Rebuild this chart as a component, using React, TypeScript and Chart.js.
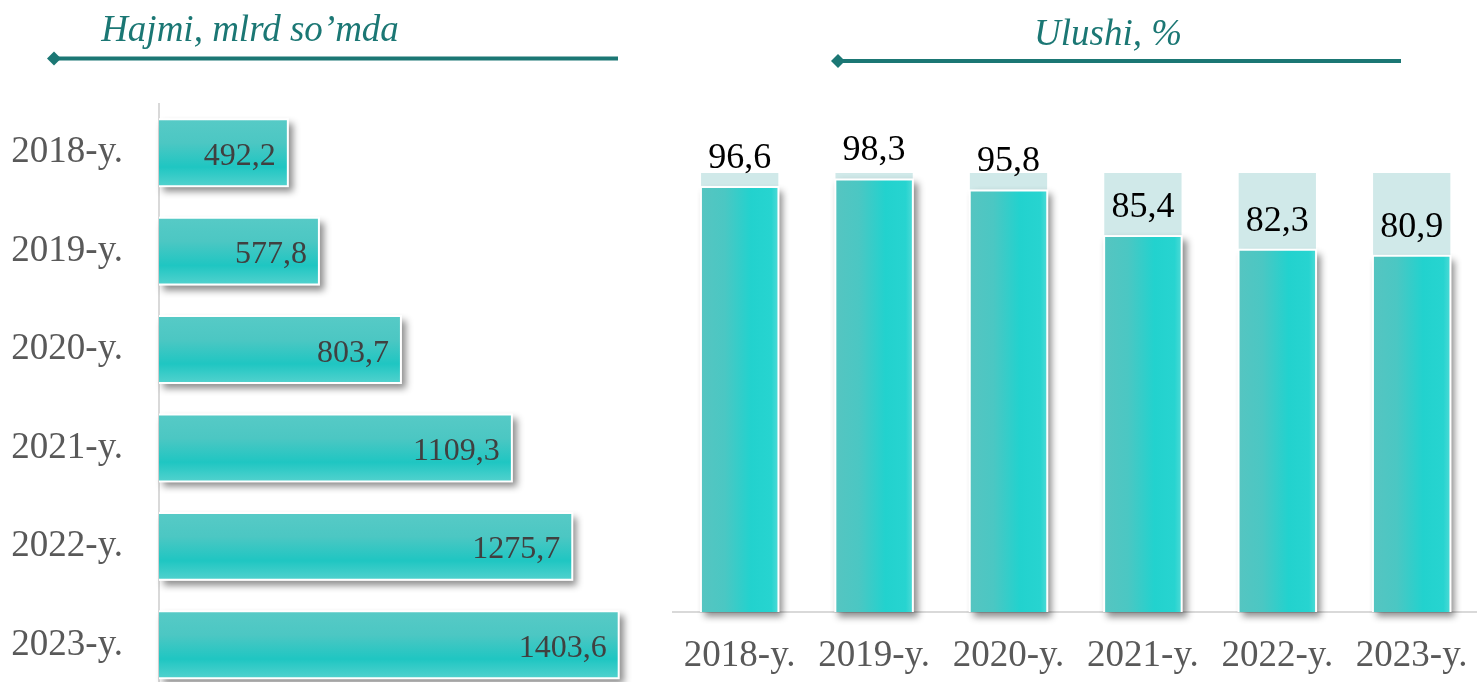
import React, { useEffect, useRef } from 'react';
import { Chart, registerables } from 'chart.js';

Chart.register(...registerables);

// ---------- data ----------
const YEARS = ['2018-y.', '2019-y.', '2020-y.', '2021-y.', '2022-y.', '2023-y.'];
const VOLUME = [492.2, 577.8, 803.7, 1109.3, 1275.7, 1403.6]; // mlrd so'm
const SHARE = [96.6, 98.3, 95.8, 85.4, 82.3, 80.9]; // %
const SHARE_MAX = 100;
const VOLUME_AXIS_MIN = 140;
const VOLUME_AXIS_MAX = 1465;
const LEFT_TITLE = 'Hajmi, mlrd so’mda';
const RIGHT_TITLE = 'Ulushi, %';

// ---------- style ----------
const SERIF = "'Liberation Serif', 'Times New Roman', serif";
const TEAL = '#1b7774';
const AXIS_GREY = '#d9d9d9';
const TICK_GREY = '#595959';
const H_BAR_PCT = 0.66;
const V_BAR_PCT = 0.562;
const V_BG_PCT = 0.575;

const fmt = (v: number) => v.toFixed(1).replace('.', ',');

const headerPlugin = {
  id: 'header',
  afterDraw(chart: any, _args: any, opts: any) {
    const { ctx } = chart;
    ctx.save();
    ctx.fillStyle = opts.color;
    ctx.font = `italic 37px ${SERIF}`;
    ctx.textAlign = 'center';
    ctx.textBaseline = 'alphabetic';
    ctx.fillText(opts.text, opts.textX, opts.textY);
    ctx.strokeStyle = opts.color;
    ctx.lineWidth = 4;
    ctx.beginPath();
    ctx.moveTo(opts.x1, opts.lineY);
    ctx.lineTo(opts.x2, opts.lineY);
    ctx.stroke();
    const d = 7;
    ctx.beginPath();
    ctx.moveTo(opts.x1 - d, opts.lineY);
    ctx.lineTo(opts.x1, opts.lineY - d);
    ctx.lineTo(opts.x1 + d, opts.lineY);
    ctx.lineTo(opts.x1, opts.lineY + d);
    ctx.closePath();
    ctx.fill();
    ctx.restore();
  },
};

const shadowPlugin = {
  id: 'barShadow',
  beforeDatasetDraw(chart: any, args: any, opts: any) {
    if (args.index !== opts.datasetIndex) return;
    const ctx = chart.ctx;
    ctx.save();
    ctx.shadowColor = 'rgba(0,0,0,0.45)';
    ctx.shadowBlur = 7;
    ctx.shadowOffsetX = 4;
    ctx.shadowOffsetY = 5;
    ctx.fillStyle = '#ffffff';
    args.meta.data.forEach((el: any) => {
      const p = el.getProps(['x', 'y', 'base', 'width', 'height'], true);
      if (opts.horizontal) {
        const l = Math.min(p.base, p.x);
        const r = Math.max(p.base, p.x);
        const t = p.y - p.height / 2;
        ctx.fillRect(l, t - 2, r - l + 2, p.height + 4);
      } else {
        const l = p.x - p.width / 2;
        const t = Math.min(p.y, p.base);
        const b = Math.max(p.y, p.base);
        ctx.fillRect(l - 2, t - 2, p.width + 4, b - t + 2);
      }
    });
    ctx.restore();
  },
};

const hLabelPlugin = {
  id: 'hLabels',
  afterDatasetsDraw(chart: any) {
    const ctx = chart.ctx;
    const meta = chart.getDatasetMeta(0);
    ctx.save();
    ctx.font = `32px ${SERIF}`;
    ctx.fillStyle = '#404040';
    ctx.textAlign = 'right';
    ctx.textBaseline = 'alphabetic';
    meta.data.forEach((el: any, i: number) => {
      ctx.fillText(fmt(VOLUME[i]), el.x - 11, el.y + 12);
    });
    ctx.restore();
  },
};

const vLabelPlugin = {
  id: 'vLabels',
  afterDatasetsDraw(chart: any) {
    const ctx = chart.ctx;
    const meta = chart.getDatasetMeta(1);
    ctx.save();
    ctx.font = `36px ${SERIF}`;
    ctx.fillStyle = '#000000';
    ctx.textAlign = 'center';
    ctx.textBaseline = 'alphabetic';
    meta.data.forEach((el: any, i: number) => {
      ctx.fillText(fmt(SHARE[i]), el.x, el.y - 20);
    });
    ctx.restore();
  },
};

function hGradient(context: any) {
  const chart = context.chart;
  const { ctx, chartArea, scales } = chart;
  if (!chartArea || !scales.y) return '#2cc7c3';
  const band = chartArea.height / YEARS.length;
  const h = band * H_BAR_PCT;
  const cy = scales.y.getPixelForValue(context.dataIndex);
  const g = ctx.createLinearGradient(0, cy - h / 2, 0, cy + h / 2);
  g.addColorStop(0, '#56cac6');
  g.addColorStop(0.35, '#4cc7c3');
  g.addColorStop(0.72, '#1fc6c2');
  g.addColorStop(1, '#4fd1cd');
  return g;
}

function vGradient(context: any) {
  const chart = context.chart;
  const { ctx, chartArea, scales } = chart;
  if (!chartArea || !scales.x) return '#2cc7c3';
  const band = chartArea.width / YEARS.length;
  const w = band * V_BAR_PCT;
  const cx = scales.x.getPixelForValue(context.dataIndex);
  const g = ctx.createLinearGradient(cx - w / 2, 0, cx + w / 2, 0);
  g.addColorStop(0, '#55c5c1');
  g.addColorStop(0.3, '#4bc7c3');
  g.addColorStop(0.65, '#22d2ce');
  g.addColorStop(0.92, '#27d4d0');
  g.addColorStop(1, '#48d9d5');
  return g;
}

export default function App() {
  const leftRef = useRef<HTMLCanvasElement>(null);
  const rightRef = useRef<HTMLCanvasElement>(null);

  useEffect(() => {
    const left = new Chart(leftRef.current as HTMLCanvasElement, {
      type: 'bar',
      data: {
        labels: YEARS,
        datasets: [
          {
            data: VOLUME,
            base: VOLUME_AXIS_MIN,
            backgroundColor: hGradient,
            borderWidth: 0,
            barPercentage: H_BAR_PCT,
            categoryPercentage: 1,
          } as any,
        ],
      },
      options: {
        indexAxis: 'y',
        responsive: false,
        animation: false,
        events: [],
        layout: { padding: { top: 103.5, bottom: 6, left: 0, right: 10 } },
        scales: {
          x: { display: false, min: VOLUME_AXIS_MIN, max: VOLUME_AXIS_MAX },
          y: {
            grid: { display: false, drawTicks: false },
            border: { display: true, color: AXIS_GREY, width: 2 },
            ticks: { font: { family: SERIF, size: 37 }, color: TICK_GREY, padding: 36 },
            afterFit: (s: any) => {
              s.width = 159;
              s.paddingTop = 0;
              s.paddingBottom = 0;
            },
          },
        },
        plugins: {
          legend: { display: false },
          tooltip: { enabled: false },
          header: { text: LEFT_TITLE, textX: 250, textY: 41, x1: 54, x2: 618, lineY: 58.5, color: TEAL },
          barShadow: { datasetIndex: 0, horizontal: true },
        } as any,
      },
      plugins: [shadowPlugin, hLabelPlugin, headerPlugin],
    });

    const right = new Chart(rightRef.current as HTMLCanvasElement, {
      type: 'bar',
      data: {
        labels: YEARS,
        datasets: [
          {
            data: SHARE.map((v) => [v, SHARE_MAX]),
            backgroundColor: '#d0e9e9',
            borderWidth: 0,
            barPercentage: V_BG_PCT,
            categoryPercentage: 1,
            grouped: false,
            order: 2,
          } as any,
          {
            data: SHARE,
            backgroundColor: vGradient,
            borderWidth: 0,
            barPercentage: V_BAR_PCT,
            categoryPercentage: 1,
            grouped: false,
            order: 1,
          } as any,
        ],
      },
      options: {
        responsive: false,
        animation: false,
        events: [],
        layout: { padding: { top: 173, bottom: 0, left: 22.5, right: 5.5 } },
        scales: {
          y: { display: false, min: 0, max: SHARE_MAX },
          x: {
            grid: { display: false, drawTicks: false },
            border: { display: true, color: AXIS_GREY, width: 2 },
            ticks: { font: { family: SERIF, size: 37 }, color: TICK_GREY, padding: 22, maxRotation: 0, autoSkip: false },
            afterFit: (s: any) => {
              s.height = 70;
            },
          },
        },
        plugins: {
          legend: { display: false },
          tooltip: { enabled: false },
          header: { text: RIGHT_TITLE, textX: 458, textY: 45, x1: 188, x2: 751, lineY: 61, color: TEAL },
          barShadow: { datasetIndex: 1, horizontal: false },
        } as any,
      },
      plugins: [shadowPlugin, vLabelPlugin, headerPlugin],
    });

    return () => {
      left.destroy();
      right.destroy();
    };
  }, []);

  return (
    <div
      style={{
        position: 'absolute',
        left: 0,
        top: 0,
        width: 1477,
        height: 682,
        overflow: 'hidden',
        background: '#ffffff',
      }}
    >
      <canvas ref={leftRef} width={650} height={700} style={{ position: 'absolute', left: 0, top: 0 }} />
      <canvas ref={rightRef} width={840} height={682} style={{ position: 'absolute', left: 650, top: 0 }} />
    </div>
  );
}
